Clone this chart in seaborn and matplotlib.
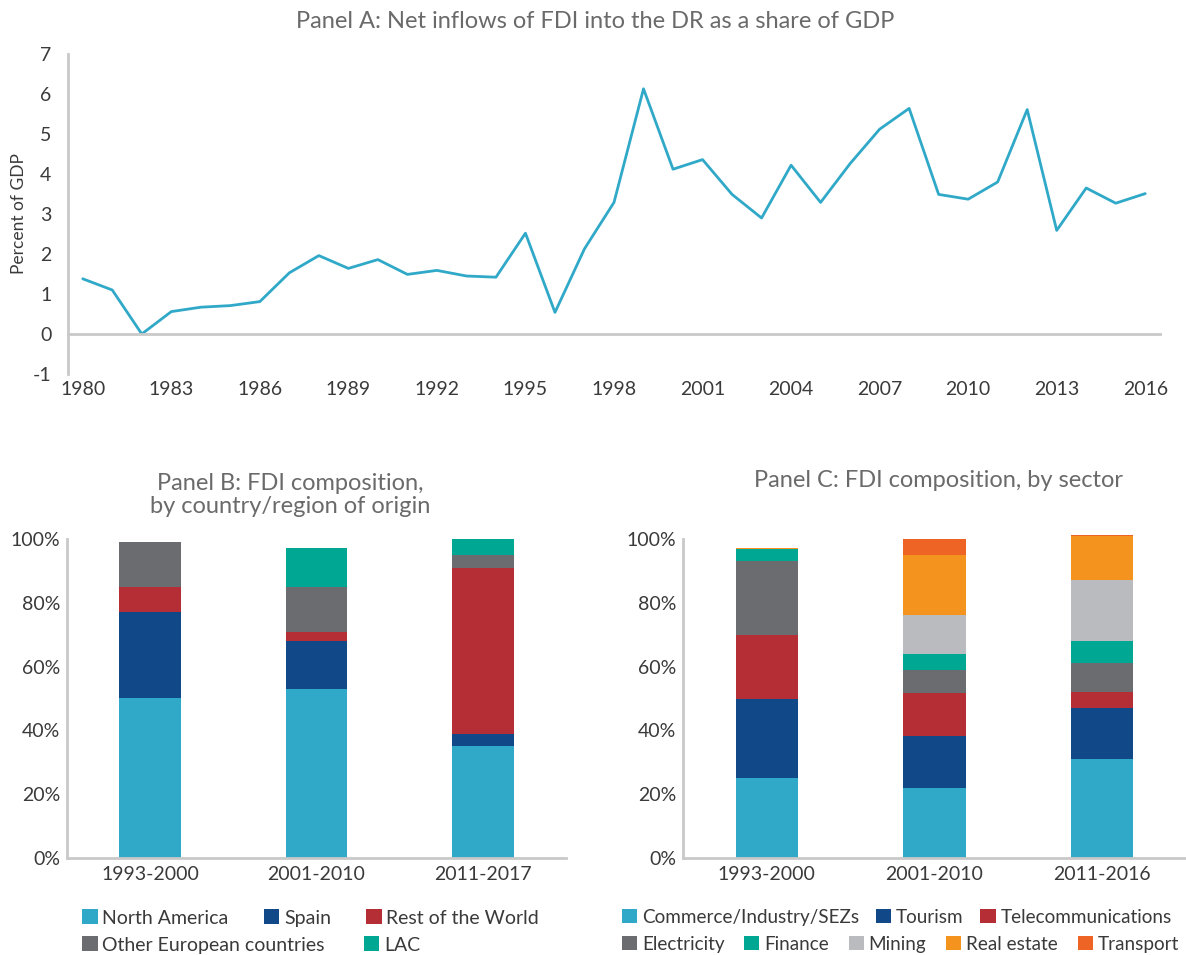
import numpy as np
import pandas as pd
import matplotlib
matplotlib.use("Agg")
import matplotlib.pyplot as plt
import seaborn as sns
from matplotlib.patches import Patch
from matplotlib.ticker import PercentFormatter

# ==========================================
# DATA
# ==========================================

years = list(range(1980, 2017))
fdi_share = [1.38, 1.10, 0.00, 0.56, 0.67, 0.71, 0.81, 1.53, 1.96, 1.64,
             1.86, 1.49, 1.59, 1.45, 1.42, 2.52, 0.54, 2.13, 3.29, 6.13,
             4.12, 4.36, 3.49, 2.90, 4.22, 3.29, 4.26, 5.12, 5.64, 3.49,
             3.37, 3.80, 5.61, 2.59, 3.65, 3.27, 3.51]

periods_b = ["1993-2000", "2001-2010", "2011-2017"]
north_america = [50.1, 52.9, 35.0]
spain = [27.0, 15.1, 3.8]
rest_world = [7.8, 2.8, 52.1]
other_europe = [14.2, 14.1, 4.1]
lac = [0.0, 12.3, 5.0]

periods_c = ["1993-2000", "2001-2010", "2011-2016"]
commerce = [25.0, 21.9, 31.0]
tourism = [24.8, 16.4, 16.1]
telecom = [20.1, 13.4, 4.9]
electricity = [23.2, 7.3, 9.1]
finance = [3.9, 4.9, 6.9]
mining = [0.0, 12.3, 19.1]
real_estate = [0.3, 18.8, 13.8]
transport = [0.0, 5.0, 0.2]

# ==========================================
# STYLE
# ==========================================

sns.set_style("white")
plt.rcParams['font.family'] = ['Lato', 'DejaVu Sans']
plt.rcParams['axes.unicode_minus'] = False

light_blue = "#30a9c8"
dark_blue = "#114887"
red = "#b52d35"
dark_gray = "#6b6c70"
teal = "#00a894"
light_gray = "#babbbe"
orange = "#f5931f"
red_orange = "#ee6424"

spine_col = "#c9c9c9"
text_col = "#3a3a3a"
title_col = "#6a6a6a"

FS = 14
TITLE_FS = 17

W, H = 1186, 955
fig = plt.figure(figsize=(W / 100, H / 100), dpi=100)


def style_axes(ax):
    for s in ['top', 'right']:
        ax.spines[s].set_visible(False)
    for s in ['left', 'bottom']:
        ax.spines[s].set_color(spine_col)
        ax.spines[s].set_linewidth(2)


def stacked(ax, periods, series, colors):
    df = pd.DataFrame(series, index=periods)
    cum = df.cumsum(axis=1)
    # draw running totals from the top down so lower layers sit in front
    for name in reversed(list(df.columns)):
        sns.barplot(
            x=periods,
            y=cum[name].values,
            color=colors[name],
            width=0.37,
            saturation=1,
            errorbar=None,
            linewidth=0,
            ax=ax
        )
    for p in ax.patches:
        p.set_clip_on(False)
    ax.set_xlim(-0.5, 2.5)
    ax.set_ylim(0, 100)
    ax.set_yticks(range(0, 101, 20))
    ax.yaxis.set_major_formatter(PercentFormatter(decimals=0))
    ax.set_xticks([0.5, 1.5, 2.5], minor=True)
    ax.tick_params(axis='x', which='major', length=0, pad=6,
                   labelsize=FS, labelcolor=text_col)
    ax.tick_params(axis='x', which='minor', direction='in', length=8,
                   width=2, color=spine_col)
    ax.tick_params(axis='y', direction='in', length=8, width=2,
                   color=spine_col, labelsize=FS, labelcolor=text_col, pad=5)
    ax.set_xlabel("")
    ax.set_ylabel("")
    style_axes(ax)


# ==========================================
# PANEL A
# ==========================================

ax_a = fig.add_axes([68 / W, 1 - 374 / H, (1160 - 68) / W, 320 / H])
sns.lineplot(x=years, y=fdi_share, color=light_blue, linewidth=2.0, ax=ax_a)
ax_a.set_xlim(1979.5, 2016.5)
ax_a.set_ylim(-1, 7)
ax_a.spines['bottom'].set_position(('data', 0))
style_axes(ax_a)
ax_a.set_xticks(range(1980, 2017, 3))
ax_a.set_xticks(np.arange(1979.5, 2017, 1), minor=True)
ax_a.set_yticks(range(-1, 8))
ax_a.tick_params(axis='x', which='major', length=0, pad=34,
                 labelsize=FS, labelcolor=text_col)
ax_a.tick_params(axis='x', which='minor', direction='in', length=8,
                 width=2, color=spine_col)
ax_a.tick_params(axis='y', direction='in', length=8, width=2,
                 color=spine_col, labelsize=FS, labelcolor=text_col, pad=12)
ax_a.set_ylabel("Percent of GDP", fontsize=12.5, color=text_col, labelpad=4)

fig.text(595 / W, 1 - 22 / H,
         "Panel A: Net inflows of FDI into the DR as a share of GDP",
         ha='center', va='center', fontsize=TITLE_FS, color=title_col)

# ==========================================
# PANEL B
# ==========================================

ax_b = fig.add_axes([67 / W, 1 - 858 / H, (566 - 67) / W, 319 / H])
series_b = {
    "North America": north_america,
    "Spain": spain,
    "Rest of the World": rest_world,
    "Other European countries": other_europe,
    "LAC": lac,
}
colors_b = {
    "North America": light_blue,
    "Spain": dark_blue,
    "Rest of the World": red,
    "Other European countries": dark_gray,
    "LAC": teal,
}
stacked(ax_b, periods_b, series_b, colors_b)

fig.text(290 / W, 1 - 495 / H,
         "Panel B: FDI composition,\nby country/region of origin",
         ha='center', va='center', fontsize=TITLE_FS, color=title_col,
         linespacing=1.1)

# ==========================================
# PANEL C
# ==========================================

ax_c = fig.add_axes([683 / W, 1 - 858 / H, (1186 - 683) / W, 319 / H])
series_c = {
    "Commerce/Industry/SEZs": commerce,
    "Tourism": tourism,
    "Telecommunications": telecom,
    "Electricity": electricity,
    "Finance": finance,
    "Mining": mining,
    "Real estate": real_estate,
    "Transport": transport,
}
colors_c = {
    "Commerce/Industry/SEZs": light_blue,
    "Tourism": dark_blue,
    "Telecommunications": red,
    "Electricity": dark_gray,
    "Finance": teal,
    "Mining": light_gray,
    "Real estate": orange,
    "Transport": red_orange,
}
stacked(ax_c, periods_c, series_c, colors_c)

fig.text(938 / W, 1 - 480 / H,
         "Panel C: FDI composition, by sector",
         ha='center', va='center', fontsize=TITLE_FS, color=title_col)

# ==========================================
# LEGENDS
# ==========================================


def legend_row(names, colors, x, y, colspace, fs=FS):
    handles = [Patch(facecolor=colors[n], edgecolor='none', label=n) for n in names]
    leg = fig.legend(
        handles=handles,
        loc='center left',
        bbox_to_anchor=(x / W, 1 - y / H),
        ncol=len(names),
        frameon=False,
        fontsize=fs,
        handlelength=0.8,
        handleheight=0.8,
        handletextpad=0.25,
        columnspacing=colspace,
        borderpad=0,
        borderaxespad=0,
    )
    for t in leg.get_texts():
        t.set_color(text_col)
    return leg


legend_row(["North America", "Spain", "Rest of the World"], colors_b, 82, 918, 1.8)
legend_row(["Other European countries", "LAC"], colors_b, 82, 945, 2.0)
legend_row(["Commerce/Industry/SEZs", "Tourism", "Telecommunications"],
           colors_c, 622, 917, 0.9, fs=13.6)
legend_row(["Electricity", "Finance", "Mining", "Real estate", "Transport"],
           colors_c, 622, 944, 1.05, fs=13.6)

fig.savefig("out.png", dpi=100)
